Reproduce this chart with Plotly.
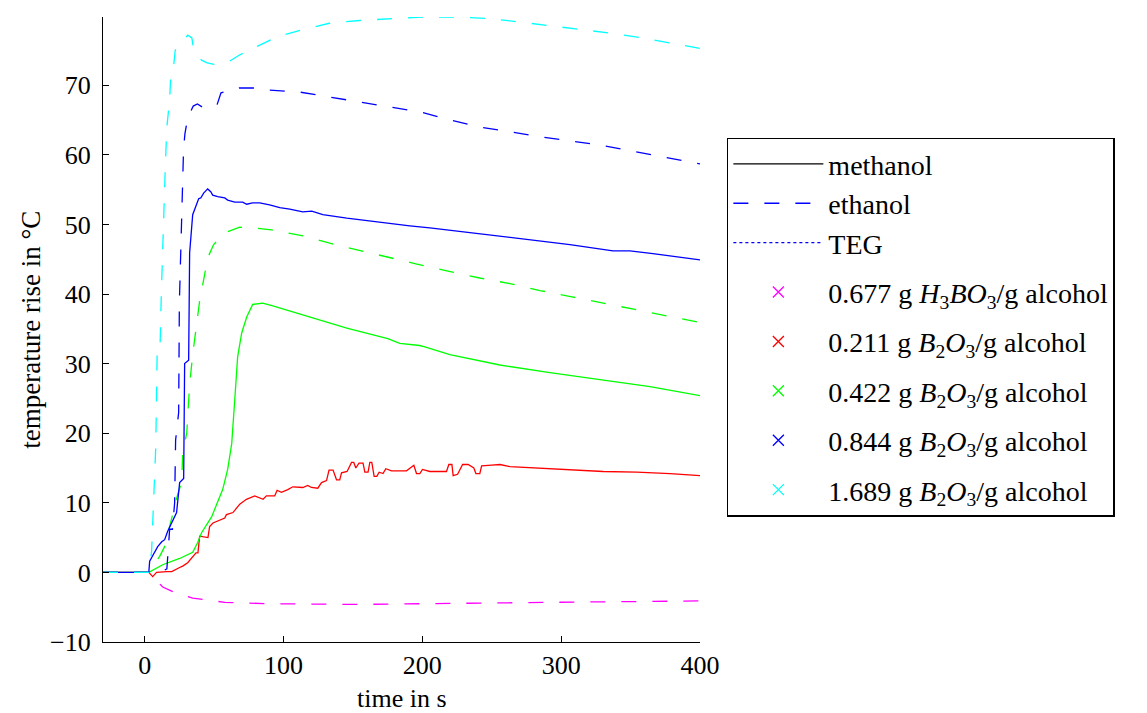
import plotly.graph_objects as go

# ---------------- data ----------------
# ethanol, 0.677 g H3BO3 / g alcohol (magenta, dashed)
t_mag = [-30, 3, 13, 23, 34.6, 44.7, 57.7, 73.5, 90, 152.8, 222, 270.3, 318.6, 366.1, 400]
T_mag = [0, 0, -2.1, -3, -3.7, -4, -4.3, -4.4, -4.5, -4.6, -4.5, -4.35, -4.25, -4.15, -4.1]

# methanol, 0.211 g B2O3 / g alcohol (red, solid)
t_red = [-30, 3, 5.8, 8.6, 15.9, 19.5, 25.2, 27.4, 31, 37, 38.4, 39.6, 45.6, 46.8, 49.2,
         57.7, 58.9, 63.6, 68.5, 73.3, 79.3, 85.3, 87.7, 90.1, 93.7, 95.4, 98.5, 103.1,
         106.7, 113.9, 117.5, 120.1, 124.7, 127.4, 131, 132.8, 135.7, 138.2, 140.5, 141.8,
         145.8, 149, 150.6, 152.1, 154.4, 157.3, 158.6, 160.9, 162.2, 163.6, 165.3, 167.2,
         168.9, 171.7, 173.7, 177.8, 188.6, 193.9, 195.8, 198.2, 200.1, 205.4, 217.4,
         219.1, 221.3, 222.2, 225.4, 229, 233, 237.1, 238.6, 241.4, 242.7, 249.9, 255.9,
         263.1, 282.3, 306.3, 330.3, 354.4, 378.4, 400]
T_red = [0, 0, -0.6, 0, 0.1, 0.1, 0.7, 0.9, 1.4, 2.8, 2.8, 5.2, 5.0, 6.6, 7.1,
         7.8, 8.3, 8.6, 9.8, 10.5, 11.0, 10.5, 11.0, 11.0, 11.0, 11.8, 11.5, 11.9,
         12.3, 12.2, 12.5, 12.2, 12.1, 12.9, 13.2, 14.7, 14.7, 13.3, 13.3, 14.3,
         14.5, 15.8, 15.8, 15.0, 15.7, 15.7, 14.4, 14.4, 15.8, 15.8, 13.8, 13.8,
         14.4, 14.2, 14.9, 14.6, 14.6, 15.4, 14.2, 14.2, 14.8, 14.5, 14.5,
         15.5, 15.5, 13.9, 14.1, 15.5, 15.5, 15.0, 14.2, 14.2, 15.3, 15.4, 15.5,
         15.2, 15.0, 14.8, 14.5, 14.4, 14.2, 13.9]

# methanol, 0.422 g B2O3 / g alcohol (green, solid)
t_grn = [-30, 3, 13, 25.2, 34.6, 38.2, 41, 44.7, 48.3, 51.9, 56.2, 59.8, 62.7, 64.9, 67,
         69.9, 73.5, 77.8, 85, 92.3, 97.3, 118.9, 145.6, 175.1, 183.8, 198, 201.8, 219.8,
         255.9, 291.9, 327.9, 364, 400]
T_grn = [0, 0, 1.1, 2, 2.9, 4.3, 5.7, 6.9, 8, 9.8, 11.9, 14.8, 18.5, 24.8, 31,
         34.4, 36.7, 38.5, 38.7, 38.3, 38, 36.7, 35.1, 33.6, 32.9, 32.6, 32.4, 31.3,
         29.8, 28.7, 27.7, 26.7, 25.4]

# ethanol, 0.422 g B2O3 / g alcohol (green, dashed)
t_grn_e = [-30, 3, 10.8, 14.4, 18, 20.2, 23.8, 26.7, 27.4, 30.3, 32.4, 34.6, 37.5, 39.6,
           43.2, 45.4, 49.7, 57.7, 68.5, 79.3, 91.5, 113.2, 133.3, 153.5, 174.4, 196,
           218.4, 241.4, 263, 284.7, 307.7, 330, 351.7, 374.8, 400]
T_grn_e = [0, 0, 2.3, 3.7, 6.6, 8.3, 11.2, 13, 17.2, 20, 27, 31.3, 35.9, 39,
           42.8, 45.2, 47.1, 48.8, 49.6, 49.5, 49.2, 48.4, 47.3, 46.3, 45.3, 44.3,
           43.3, 42.3, 41.5, 40.5, 39.6, 38.7, 37.9, 37, 35.9]

# methanol, 0.844 g B2O3 / g alcohol (blue, solid)
t_blu = [-30, 3, 3.6, 7.2, 9.4, 12.3, 14.4, 16.6, 19.5, 23, 25.2, 28.1, 28.8, 31.7, 32.4,
         34.6, 38.9, 40.4, 42.5, 45.4, 47.6, 49, 52.6, 57.7, 59.8, 64.9, 70.6, 73.5, 77.8,
         82.9, 90, 97.3, 104.5, 113.9, 120.4, 128.3, 145.6, 162.2, 171.5, 191, 205.4, 222,
         246.5, 270.3, 289.7, 306.3, 337.3, 349.5, 366.1, 400]
T_blu = [0, 0, 1.6, 3, 3.7, 4.4, 4.7, 5.9, 7.2, 8.6, 12.9, 13.5, 30, 30.5, 45.9,
         51.4, 53.7, 53.8, 54.5, 55.1, 54.7, 54.2, 54, 53.8, 53.5, 53.2, 53.2, 52.9, 53.1,
         53.1, 52.8, 52.4, 52.2, 51.8, 51.9, 51.4, 50.9, 50.5, 50.2, 49.8, 49.5, 49.1,
         48.5, 47.9, 47.5, 47.1, 46.2, 46.2, 45.8, 44.9]

# ethanol, 0.844 g B2O3 / g alcohol (blue, dashed)
t_blu_e = [-30, 3, 14, 16, 17, 18, 20, 21.6, 22.3, 23, 24, 24.5, 25, 26, 27, 28, 29, 31,
           35, 38, 42, 46, 52, 55, 60, 68, 79, 90, 112, 133, 155, 178, 200, 220, 241, 263,
           285, 328, 364, 400]
T_blu_e = [0, 0, 0.3, 0.5, 3.3, 6.2, 6.2, 10, 19, 20.5, 23, 23, 38.7, 45, 51.8, 60.7, 63, 65.3,
           67, 67.3, 66.8, 67, 67.1, 68.9, 69.2, 69.6, 69.6, 69.3, 69, 68.3, 67.6, 66.9, 66.1, 65,
           64, 63.3, 62.6, 61.4, 60, 58.7]

# ethanol, 1.689 g B2O3 / g alcohol (cyan, dashed)
t_cya = [-30, 3, 5, 6, 8, 9, 11, 12, 13, 15, 16, 18, 19, 21, 22, 24, 26, 31, 34, 35, 38, 41,
         45, 50, 60, 68, 78, 87, 96, 112, 133, 155, 179, 200, 222, 247, 269, 290, 314, 335,
         358, 381, 400]
T_cya = [0, 0, 3, 8, 18, 31.5, 31.5, 40, 47, 59, 64, 68, 72, 73, 75, 75.5, 76, 77.2, 76.8,
         75.5, 74.3, 73.6, 73.2, 73.0, 73.3, 74.3, 75.3, 76.2, 77, 77.9, 78.9, 79.3, 79.6,
         79.8, 79.8, 79.6, 79.1, 78.6, 78, 77.5, 76.8, 76, 75.3]

x_ticks = [0, 100, 200, 300, 400]
y_ticks = [-10, 0, 10, 20, 30, 40, 50, 60, 70]

x_title = "time in s"
y_title = "temperature rise in °C"

legend_lines = [("methanol", "#000000", "solid"),
                ("ethanol", "#0000ff", "15px,16px"),
                ("TEG", "#0000ff", "dot")]
legend_marks = [("0.677 g <i>H</i><sub>3</sub><i>BO</i><sub>3</sub>/g alcohol", "#ff00ff"),
                ("0.211 g <i>B</i><sub>2</sub><i>O</i><sub>3</sub>/g alcohol", "#ff0000"),
                ("0.422 g <i>B</i><sub>2</sub><i>O</i><sub>3</sub>/g alcohol", "#00ff00"),
                ("0.844 g <i>B</i><sub>2</sub><i>O</i><sub>3</sub>/g alcohol", "#0000ff"),
                ("1.689 g <i>B</i><sub>2</sub><i>O</i><sub>3</sub>/g alcohol", "#00ffff")]

FONT = "Liberation Serif"
DASH = "15px,16px"

series = [
    (t_mag, T_mag, "#ff00ff", DASH),
    (t_red, T_red, "#ff0000", "solid"),
    (t_grn, T_grn, "#00ff00", "solid"),
    (t_grn_e, T_grn_e, "#00ff00", DASH),
    (t_blu, T_blu, "#0000ff", "solid"),
    (t_blu_e, T_blu_e, "#0000ff", DASH),
    (t_cya, T_cya, "#00ffff", DASH),
]

fig = go.Figure()
for tx, ty, col, dash in series:
    assert len(tx) == len(ty)
    fig.add_trace(go.Scatter(x=tx, y=ty, mode="lines", showlegend=False,
                             line=dict(color=col, width=1.3, dash=dash)))

for name, col, dash in legend_lines:
    fig.add_trace(go.Scatter(x=[None], y=[None], mode="lines", name=name,
                             legendgroup="lines",
                             line=dict(color=col, width=1.3, dash=dash)))
for i, (name, col) in enumerate(legend_marks):
    fig.add_trace(go.Scatter(x=[None], y=[None], mode="markers", name=name,
                             legendgroup="m%d" % i,
                             marker=dict(symbol="x-thin", size=11, color=col,
                                         line=dict(color=col, width=1.3))))

axis_common = dict(showgrid=False, zeroline=False, automargin=False,
                   showline=True, linecolor="black", linewidth=1.3,
                   ticks="inside", ticklen=6, tickcolor="black", tickwidth=1.3,
                   tickfont=dict(family=FONT, size=26, color="black"))

# the page body has an 8px margin, so the figure is drawn 8px smaller and
# its margins reduced by 8px to land at the reference's positions
fig.update_layout(
    width=1139, height=705,
    margin=dict(l=95, r=447, t=9, b=71),
    paper_bgcolor="white", plot_bgcolor="white",
    font=dict(family=FONT, size=26, color="black"),
    showlegend=True,
    legend=dict(x=1.045, y=0.807, xanchor="left", yanchor="top",
                bordercolor="black", borderwidth=1.5, bgcolor="white",
                traceorder="grouped", tracegroupgap=10, itemwidth=90,
                font=dict(family=FONT, size=28, color="black")),
    xaxis=dict(range=[-30, 400], tickvals=x_ticks, ticklabelstandoff=0, **axis_common),
    yaxis=dict(range=[-10, 79.8], tickvals=y_ticks, ticklabelstandoff=6, **axis_common),
    annotations=[
        dict(text=x_title, xref="paper", yref="paper", x=0.5, y=-0.09,
             xanchor="center", yanchor="middle", showarrow=False,
             font=dict(family=FONT, size=26, color="black")),
        dict(text=y_title, xref="paper", yref="paper", x=-0.122, y=0.5,
             xanchor="center", yanchor="middle", textangle=-90, showarrow=False,
             font=dict(family=FONT, size=27, color="black")),
    ],
)

fig.write_html("out.html")
